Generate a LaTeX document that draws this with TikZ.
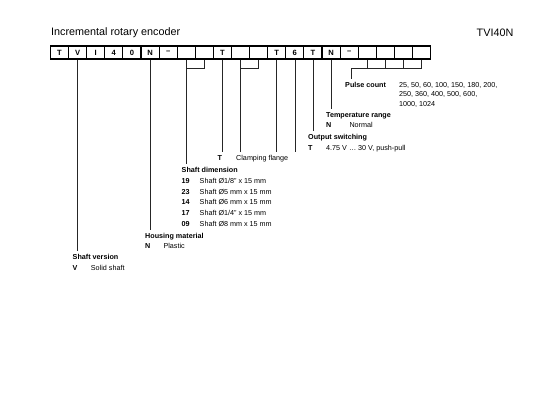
\documentclass[tikz,border=0pt]{standalone}
\usepackage{fontspec}
\setmainfont{Liberation Sans}
\begin{document}
\begin{tikzpicture}[x=1pt,y=-1pt,
  cell/.style={draw, line width=1.1pt, minimum width=18.1pt, minimum height=13pt, inner sep=0pt, font=\fontsize{7.6}{8}\selectfont\bfseries},
  lead/.style={line width=0.55pt, draw=black!85},
  head/.style={anchor=base west, inner xsep=0pt, inner ysep=3pt, font=\fontsize{7.2}{9}\selectfont\bfseries},
  code/.style={anchor=base west, inner sep=0pt, font=\fontsize{7.2}{9}\selectfont\bfseries},
  val/.style={anchor=base west, inner sep=0pt, font=\fontsize{7.2}{9}\selectfont},
  ttl/.style={anchor=base west, inner sep=0pt, font=\fontsize{10.8}{13}\selectfont}]
\useasboundingbox (0,0) rectangle (544,400);

% titles
\node[ttl] (title) at (51,35) {Incremental rotary encoder};
\node[ttl] (type) at (476.5,36) {TVI40N};

% code cells
\foreach \t [count=\i from 0] in {T,V,I,4,0,N,–,{},{},T,{},{},T,6,T,N,–,{},{},{},{}}
  \node[cell] (c\i) at ({59.55+18.1*\i},52.5) {\t};

% ---- labels ----
% Pulse count
\node[head] (pc) at (345,87.6) {Pulse count};
\node[val] (pv1) at (399,87.6) {25, 50, 60, 100, 150, 180, 200,};
\node[val] (pv2) at (399,96.8) {250, 360, 400, 500, 600,};
\node[val] (pv3) at (399,106) {1000, 1024};
% Temperature range
\node[head] (tr) at (326,117) {Temperature range};
\node[code] (trc) at (326,127.6) {N};
\node[val] (trv) at (349.3,127.6) {Normal};
% Output switching
\node[head] (os) at (308,139) {Output switching};
\node[code] (osc) at (308,150.3) {T};
\node[val] (osv) at (326,150.3) {4.75 V … 30 V, push-pull};
% Flange
\node[code] (flc) at (217.4,160.8) {T};
\node[val] (flv) at (236,160.8) {Clamping flange};
\coordinate (fl) at (0,152);
% Shaft dimension
\node[head] (sd) at (181.5,172) {Shaft dimension};
\foreach \c/\d/\y in {19/{Shaft Ø1/8" x 15 mm}/183.3, 23/{Shaft Ø5 mm x 15 mm}/194.1, 14/{Shaft Ø6 mm x 15 mm}/204.9, 17/{Shaft Ø1/4" x 15 mm}/215.6, 09/{Shaft Ø8 mm x 15 mm}/226.4}{
  \node[code] (sdc\c) at (181.5,\y) {\c};
  \node[val] (sdv\c) at (199.5,\y) {\d};
}
% Housing material
\node[head] (hm) at (145,238) {Housing material};
\node[code] (hmc) at (145,248.8) {N};
\node[val] (hmv) at (163.3,248.8) {Plastic};
% Shaft version
\node[head] (sv) at (72.5,259.8) {Shaft version};
\node[code] (svc) at (72.5,270.8) {V};
\node[val] (svv) at (90.7,270.8) {Solid shaft};

% ---- leaders ----
\draw[lead] (c1.south) -- (c1.south |- sv.north);
\draw[lead] (c5.south) -- (c5.south |- hm.north);
\path (c7.south) ++(0,9) coordinate (j1);
\draw[lead] (c8.south) |- (j1);
\draw[lead] (c7.south) -- (c7.south |- sd.north);
\draw[lead] (c9.south) -- (c9.south |- fl);
\path (c10.south) ++(0,9) coordinate (j2);
\draw[lead] (c11.south) |- (j2);
\draw[lead] (c10.south) -- (c10.south |- fl);
\draw[lead] (c12.south) -- (c12.south |- fl);
\draw[lead] (c13.south) -- (c13.south |- fl);
\draw[lead] (c14.south) -- (c14.south |- os.north);
\draw[lead] (c15.south) -- (c15.south |- tr.north);
\coordinate (pj) at (351,68.5);
\foreach \k in {17,...,20}
  \draw[lead] (c\k.south) -- (c\k.south |- pj);
\draw[lead] (c20.south |- pj) -- (pj) -- (pj |- pc.north);
\end{tikzpicture}
\end{document}
